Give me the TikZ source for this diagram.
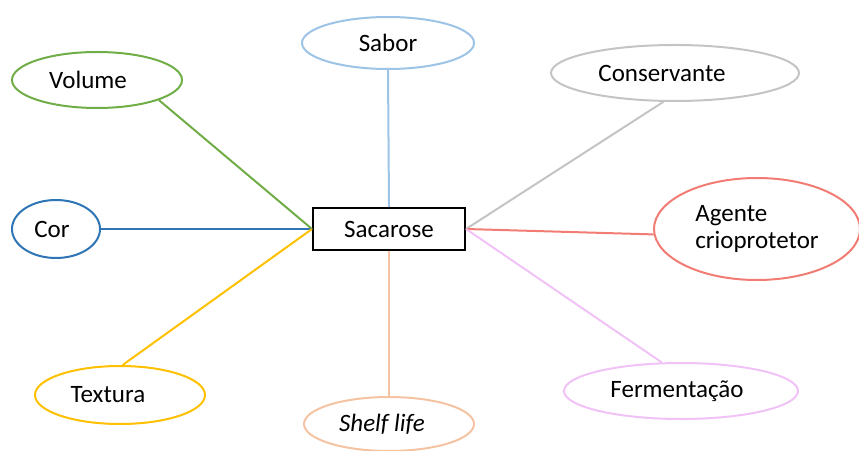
\documentclass[tikz,border=0pt]{standalone}
\usepackage{fontspec}
\setmainfont{Carlito}
\usetikzlibrary{shapes.geometric}

\definecolor{cgreen}{HTML}{70AD47}
\definecolor{clightblue}{HTML}{9DC3E6}
\definecolor{cblue}{HTML}{2E75B6}
\definecolor{cyellow}{HTML}{FFC000}
\definecolor{cpeach}{HTML}{F6C3A2}
\definecolor{cgray}{HTML}{C4C4C4}
\definecolor{cred}{HTML}{F27C73}
\definecolor{cpink}{HTML}{F0C2F6}

\tikzset{
  bubble/.style={ellipse, draw=#1, line width=2pt, inner sep=0pt,
    font=\fontsize{25}{27}\selectfont},
  hub/.style={rectangle, draw=black, line width=2pt, inner sep=0pt,
    minimum width=152pt, minimum height=42pt, font=\fontsize{25}{27}\selectfont},
  link/.style={draw=#1, line width=2pt}
}
% trailing space that nudges a label left of its bubble's centre
\newcommand{\nudge}[1]{\hspace*{#1}}

\begin{document}
\begin{tikzpicture}[x=1pt,y=1pt]
  \useasboundingbox (0,0) rectangle (859,450);

  % central property
  \node[hub] (sac) at (389,221) {Sacarose};

  % surrounding functions
  \node[bubble=clightblue, minimum width=172pt, minimum height=52pt] (sab) at (388,407) {Sabor};
  \node[bubble=cgreen, minimum width=170pt, minimum height=56pt] (vol) at (97,370) {Volume\nudge{18pt}};
  \node[bubble=cblue, minimum width=88pt, minimum height=58pt] (cor) at (56,221) {Cor\nudge{8pt}};
  \node[bubble=cyellow, minimum width=170pt, minimum height=58pt] (tex) at (120,55) {Textura\nudge{24pt}};
  \node[bubble=cpeach, minimum width=170pt, minimum height=54pt] (shl) at (389,26) {\itshape Shelf life\nudge{14pt}};
  \node[bubble=cgray, minimum width=248pt, minimum height=56pt] (con) at (675,377) {Conservante\nudge{26pt}};
  \node[bubble=cred, minimum width=206pt, minimum height=102pt, align=left] (agc) at (757,221) {Agente\\crioprotetor};
  \node[bubble=cpink, minimum width=234pt, minimum height=56pt] (fer) at (681,59) {Fermentação\nudge{8pt}};

  % connectors
  \draw[link=clightblue] (sab.south) -- (sac.north);
  \draw[link=cgreen] (vol.-18) -- (sac.west);
  \draw[link=cblue] (cor.east) -- (sac.west);
  \draw[link=cyellow] (tex.85) -- (sac.west);
  \draw[link=cpeach] (shl.north) -- (sac.south);
  \draw[link=cgray] (con.-112) -- (sac.east);
  \draw[link=cred] (agc.183) -- (sac.east);
  \draw[link=cpink] (fer.124) -- (sac.east);
\end{tikzpicture}
\end{document}
